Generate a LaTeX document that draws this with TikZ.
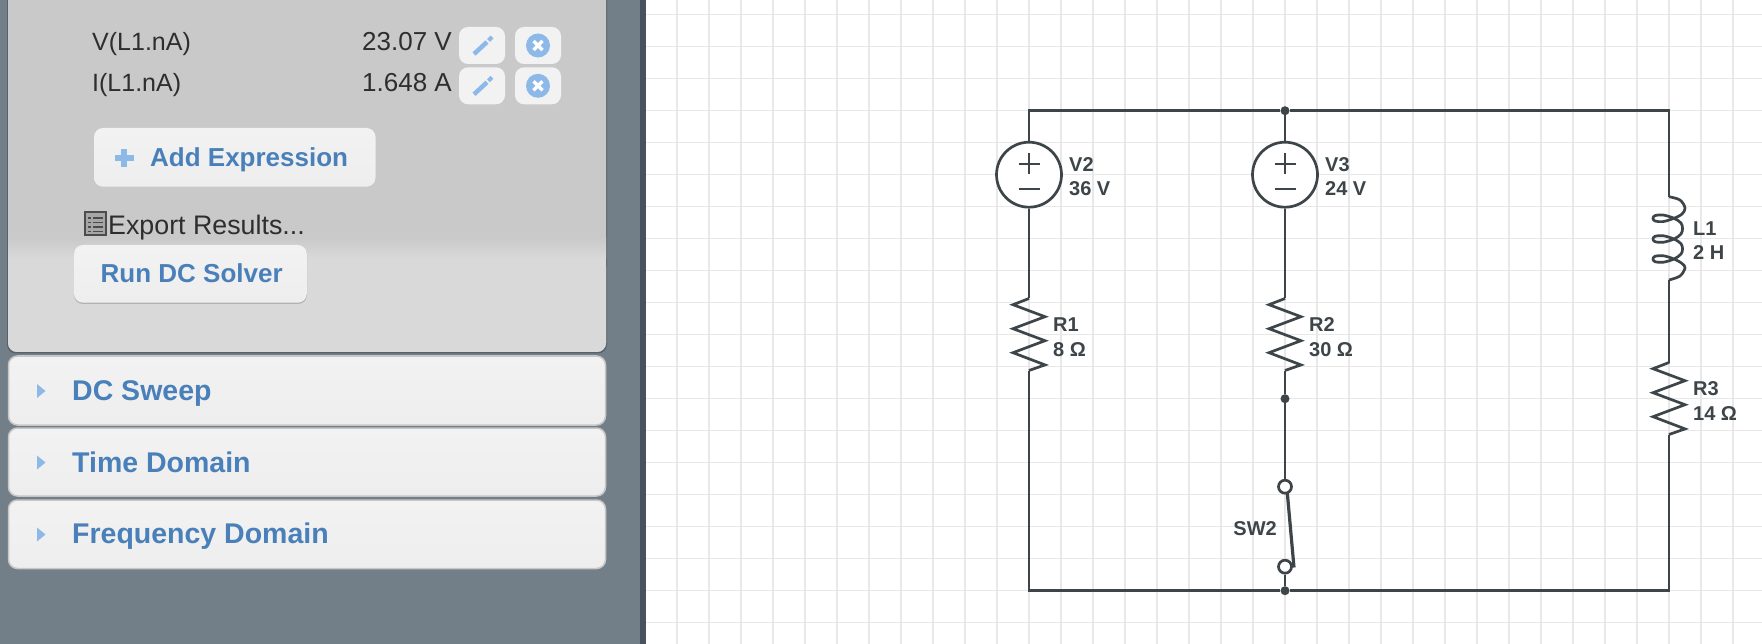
\documentclass[tikz,border=0pt]{standalone}
\usepackage{fontspec}
\setmainfont{Liberation Sans}
\definecolor{wire}{HTML}{3D4549}
\definecolor{gridc}{HTML}{E8E8E8}
\definecolor{slate}{HTML}{727F89}
\definecolor{edge}{HTML}{4A5260}
\definecolor{linkb}{HTML}{4A80BA}
\definecolor{iconb}{HTML}{8DB9E8}
\definecolor{txt}{HTML}{2E2E2E}
\definecolor{gainsboroA}{HTML}{F2F2F2}
\definecolor{gainsboroB}{HTML}{EEEEEE}
\tikzset{
  wireline/.style={draw=wire,line width=2.7pt,line join=miter},
  label/.style={inner sep=0pt,anchor=base west,text=wire,font=\fontsize{20}{24}\selectfont\bfseries},
  junction/.style={circle,fill=wire,draw=none,minimum size=9pt,inner sep=0pt},
  terminal/.style={circle,fill=white,draw=wire,line width=2.7pt,minimum size=13pt,inner sep=0pt},
  source/.style={circle,fill=white,draw=wire,line width=2.7pt,minimum size=65pt,inner sep=0pt},
  btn/.style={rounded corners=9pt,top color=gainsboroA,bottom color=gainsboroB,draw=none},
  acc/.style={rounded corners=9pt,top color=gainsboroA,bottom color=gainsboroB,draw=black!22,line width=1.5pt},
  ptext/.style={inner sep=0pt,anchor=base west,text=txt,font=\fontsize{25}{30}\selectfont},
  pval/.style={inner sep=0pt,anchor=base east,text=txt,font=\fontsize{26}{30}\selectfont},
  ltext/.style={inner sep=0pt,anchor=base west,text=linkb,font=\fontsize{26}{30}\selectfont\bfseries},
  atext/.style={inner sep=0pt,anchor=base west,text=linkb,font=\fontsize{28.5}{32}\selectfont\bfseries},
  gridline/.style={draw=gridc,line width=1.2pt},
}
% resistor: name, x, y of top end
\newcommand{\resistorsym}[3]{%
  \coordinate (#1-t) at (#2,#3);
  \coordinate (#1-b) at (#2,#3+72);
  \draw[wireline] (#1-t) -- ++(-16,6.2) -- ++(32,12) -- ++(-32,12) -- ++(32,12) -- ++(-32,12) -- ++(32,12.2) -- (#1-b);
}
\newcommand{\smallbtns}[1]{%
  \fill[gainsboroA,rounded corners=9pt] (459,#1-18.5) rectangle (505,#1+18.5);
  \fill[gainsboroA,rounded corners=9pt] (515,#1-18.5) rectangle (561,#1+18.5);
  \draw[iconb,line width=4.5pt] (474,#1+8.5) -- (487,#1-3.5);
  \draw[iconb,line width=4pt] (488.5,#1-5) -- (492,#1-8.5);
  \fill[iconb] (538,#1) circle (12);
  \draw[white,line width=3.4pt] (533.5,#1-4.5) -- (542.5,#1+4.5);
  \draw[white,line width=3.4pt] (533.5,#1+4.5) -- (542.5,#1-4.5);
}
\begin{document}
\begin{tikzpicture}[x=1pt,y=-1pt]
\useasboundingbox (0,0) rectangle (1762,644);
\clip (0,0) rectangle (1762,644);
% canvas
\fill[white] (646,0) rectangle (1762,644);
\foreach \i in {0,...,34} {\draw[gridline] (677+32*\i,0) -- (677+32*\i,644);}
\foreach \j in {0,...,19} {\draw[gridline] (646,14.7+32*\j) -- (1762,14.7+32*\j);}
% side panel
\fill[slate] (0,0) rectangle (640,644);
\fill[edge] (640,0) rectangle (646,644);
\fill[black!65!slate,opacity=.35,rounded corners=9pt] (7,-20) rectangle (607,353.5);
\fill[black!21,rounded corners=9pt] (8,-20) rectangle (606,352);
\shade[top color=black!21,bottom color=black!15] (8,238) rectangle (606,258);
\fill[black!15,rounded corners=9pt] (8,258) rectangle (606,352);
\fill[black!15] (8,258) rectangle (606,300);
% result rows
\node[ptext] (vname) at (92,50.7) {V(L1.nA)};
\node[pval] (vval) at (452,50.7) {23.07 V};
\node[ptext] (iname) at (92,91.7) {I(L1.nA)};
\node[pval] (ival) at (452,91.7) {1.648 A};
\smallbtns{45.5}
\smallbtns{85.8}
% add expression
\shade[btn] (94,128) rectangle (375.5,186.7);
\fill[iconb] (121,149) rectangle (127,167);
\fill[iconb] (114.5,155) rectangle (133.5,161);
\node[ltext] (addexpr) at (150,166.7) {Add Expression};
% export
\draw[black!70,fill=black!35,line width=2pt] (84.5,212.5) rectangle (105.5,235.5);
\foreach \yy in {218,222.5,227,231.5} {\draw[black!70,line width=1.8pt] (88,\yy) -- (91,\yy) (93,\yy) -- (103,\yy);}
\node[ptext,font=\fontsize{26.8}{30}\selectfont] (export) at (108,235) {Export Results...};
% run
\fill[black!30,rounded corners=9pt] (74,246) rectangle (307,304);
\shade[btn] (74,245) rectangle (306.8,302.7);
\node[ltext] (run) at (100.5,283) {Run DC Solver};
% accordions
\shade[acc] (8.5,356) rectangle (605.5,425);
\shade[acc] (8.5,428) rectangle (605.5,496);
\shade[acc] (8.5,500) rectangle (605.5,568.5);
\foreach \yc in {391,462.5,534.5} {\fill[iconb] (37,\yc-7) -- (45.5,\yc) -- (37,\yc+7) -- cycle;}
\node[atext] (dc) at (72,400.7) {DC Sweep};
\node[atext] (time) at (72,472) {Time Domain};
\node[atext] (freq) at (72,543) {Frequency Domain};
% circuit corners and junctions
\coordinate (tl) at (1029,110.7);
\coordinate (tr) at (1669,110.7);
\coordinate (bl) at (1029,590.7);
\coordinate (br) at (1669,590.7);
\node[junction] (jt) at (1285,110.7) {};
\node[junction] (jb) at (1285,590.7) {};
\node[junction] (jm) at (1285,398.7) {};
% inductor ends
\coordinate (L1-t) at (1669,196.7);
\coordinate (L1-b) at (1669,280);
% resistors
\resistorsym{R1}{1029}{298.5}
\resistorsym{R2}{1285}{298.5}
\resistorsym{R3}{1669}{362.5}
% inductor
\begin{scope}[shift={(1669,0)}]
\draw[wireline,line join=round] plot[smooth,tension=.55] coordinates {
 (0,196.7) (11,200) (16,208) (13,214) (5,218.3) (-6,221.6) (-14,221) (-16,218.3) (-14,215.6) (-6,215) (5,218.3) (12,223) (13.5,228.6)
 (12,234) (5,239) (-6,242.3) (-14,241.7) (-16,239) (-14,236.3) (-6,235.7) (5,239) (12,243.7) (13.5,249)
 (12,254) (5,259) (-6,262.3) (-14,261.7) (-16,259) (-14,256.3) (-6,255.7) (5,259) (13,263.5) (16,268) (11,276) (0,280)};
\end{scope}
% sources
\node[source] (V2) at (1029,174.7) {};
\node[source] (V3) at (1285,174.7) {};
\foreach \s in {V2,V3} {
  \draw[wire,line width=1.7pt] ([xshift=-10.5pt,yshift=11pt]\s.center) -- ([xshift=10.5pt,yshift=11pt]\s.center);
  \draw[wire,line width=1.7pt] ([yshift=21.5pt]\s.center) -- ([yshift=0.5pt]\s.center);
  \draw[wire,line width=1.7pt] ([xshift=-10.5pt,yshift=-14.3pt]\s.center) -- ([xshift=10.5pt,yshift=-14.3pt]\s.center);
}
% switch
\node[terminal] (swt) at (1285,486.7) {};
\node[terminal] (swb) at (1285,566.7) {};
\draw[wire,line width=3.2pt] (swt) ++(2.3,6.3) -- ++(6.7,74.5);
% wires
\draw[wireline] (jt) -- (tl) -- (V2);
\draw[wireline] (V2) -- (R1-t);
\draw[wireline] (R1-b) -- (bl) -- (jb);
\draw[wireline] (jb) -- (br) -- (R3-b);
\draw[wireline] (R3-t) -- (L1-b);
\draw[wireline] (L1-t) -- (tr) -- (jt);
\draw[wireline] (jt) -- (V3);
\draw[wireline] (V3) -- (R2-t);
\draw[wireline] (R2-b) -- (jm);
\draw[wireline] (jm) -- (swt);
\draw[wireline] (swb) -- (jb);
% labels
\node[label,anchor=base east] (SW2) at (1277,535.7) {SW2};
\node[label] (V2a) at (1069,172) {V2};
\node[label] (V2b) at (1069,196) {36 V};
\node[label] (V3a) at (1325,172) {V3};
\node[label] (V3b) at (1325,196) {24 V};
\node[label] (R1a) at (1053,332) {R1};
\node[label] (R1b) at (1053,356) {8 Ω};
\node[label] (R2a) at (1309,332) {R2};
\node[label] (R2b) at (1309,356) {30 Ω};
\node[label] (L1a) at (1693,235.7) {L1};
\node[label] (L1v) at (1693,260) {2 H};
\node[label] (R3a) at (1693,395.7) {R3};
\node[label] (R3b) at (1693,420) {14 Ω};
\end{tikzpicture}
\end{document}
